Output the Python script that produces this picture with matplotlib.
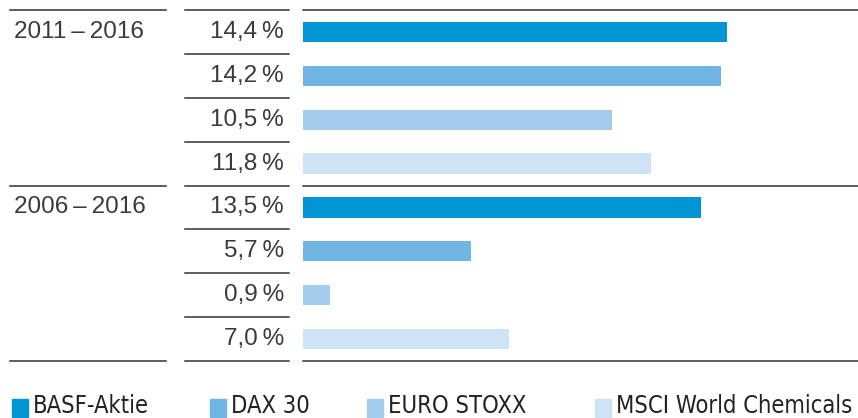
import matplotlib.pyplot as plt
from matplotlib.patches import Rectangle

# data
periods = ["2011\u2009–\u20092016", "2006\u2009–\u20092016"]
series = ["BASF-Aktie", "DAX 30", "EURO STOXX", "MSCI World Chemicals"]
values = [
    [14.4, 14.2, 10.5, 11.8],
    [13.5, 5.7, 0.9, 7.0],
]
colors = ["#0096d6", "#70b6e4", "#a2cdee", "#cde3f6"]

plt.rcParams['font.family'] = ['Liberation Sans', 'DejaVu Sans']
text_col = "#3a3a3a"
line_col = "#333333"

W, H = 858, 418
fig = plt.figure(figsize=(W / 100, H / 100), dpi=100)
# bar area in pixels: x 303..858, y 10..361
ax = fig.add_axes([303 / W, 1 - 361 / H, 555 / W, 351 / H])

n = len(series)
rows = []
for g, p in enumerate(periods):
    for i, v in enumerate(values[g]):
        rows.append((g * n + i, v, colors[i]))

for y, v, c in rows:
    ax.barh(y, v, height=0.46, color=c, edgecolor="none")

ax.set_xlim(0, 555 / 29.45)
ax.set_ylim(len(rows) - 0.5, -0.5)
ax.axis("off")

tr = ax.get_yaxis_transform()
px = lambda x: (x - 303) / 555

# separator lines
for b in range(len(rows) + 1):
    yb = b - 0.5
    ax.plot([px(185), px(289)], [yb, yb], color=line_col, lw=1.1,
            transform=tr, clip_on=False)
    if b % n == 0:
        ax.plot([px(10), px(166)], [yb, yb], color=line_col, lw=1.1,
                transform=tr, clip_on=False)
        ax.plot([0, 1], [yb, yb], color=line_col, lw=1.1,
                transform=tr, clip_on=False)

# value labels
for y, v, c in rows:
    lab = f"{v:.1f}".replace(".", ",") + "\u2009%"
    ax.text(px(284), y, lab, ha="right", va="center", fontsize=17.5,
            color=text_col, transform=tr)

# period labels
for g, p in enumerate(periods):
    ax.text(px(14), g * n, p, ha="left", va="center", fontsize=17.5,
            color=text_col, transform=tr)

# legend (the long last label runs past the right edge, as in the original)
leg_x = [12, 210, 367, 595]
for i, name in enumerate(series):
    fig.patches.append(Rectangle((leg_x[i] / W, 1 - 417 / H), 16 / W, 18 / H,
                                 transform=fig.transFigure, color=colors[i]))
    fig.text((leg_x[i] + 21) / W, 1 - 406 / H, name, ha="left", va="center",
             fontsize=17, color="#222222", fontstretch="condensed",
             family=['DejaVu Sans'])

fig.savefig("out.png", dpi=100)
